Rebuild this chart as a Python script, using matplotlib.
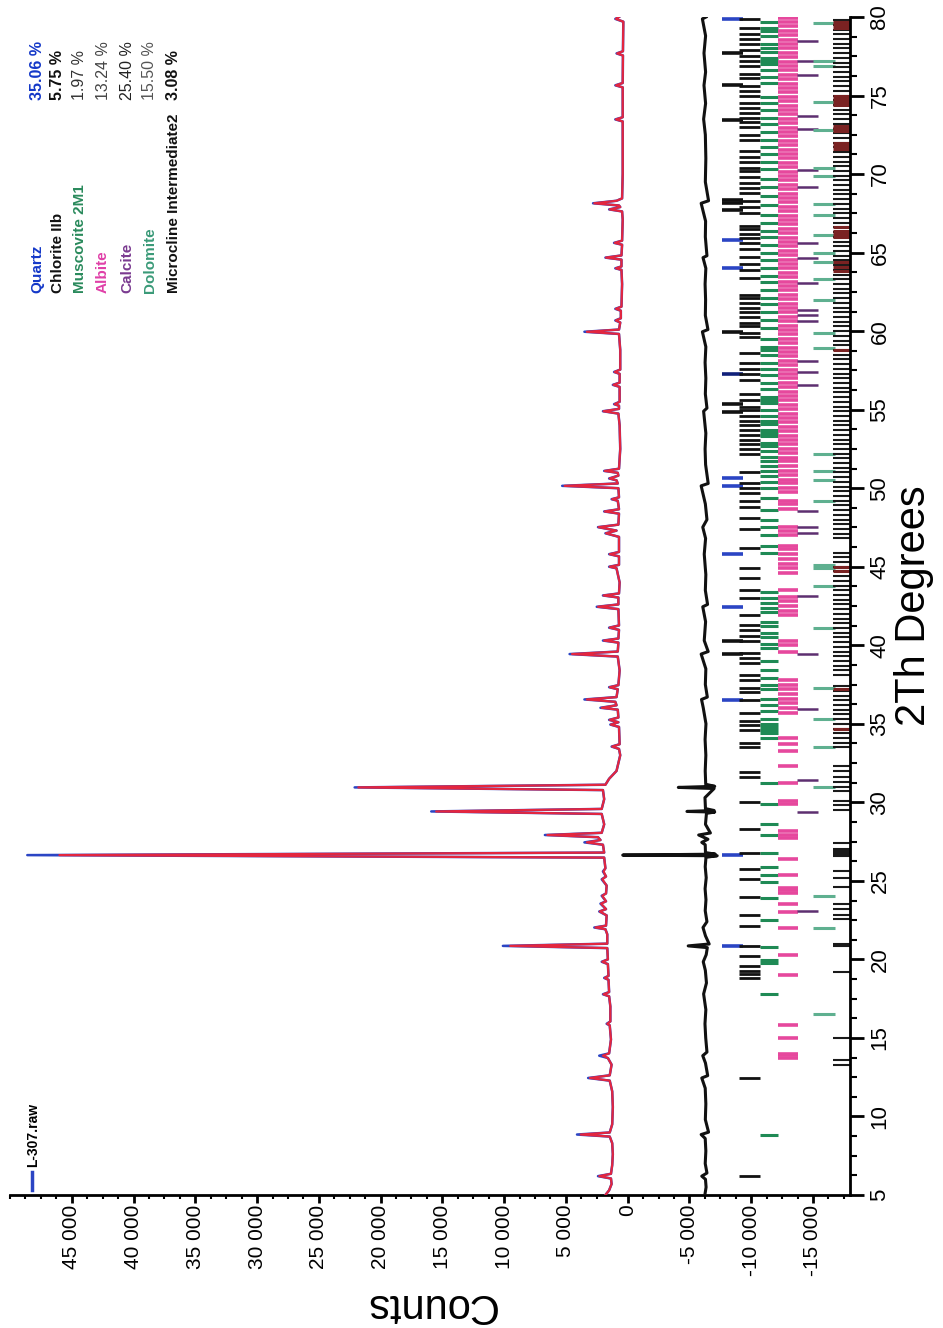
import matplotlib
matplotlib.use("Agg")
import matplotlib.pyplot as plt
from matplotlib.ticker import MultipleLocator, FuncFormatter
from matplotlib.lines import Line2D

plt.rcParams['font.family'] = ['Liberation Sans', 'DejaVu Sans']

# ---------------- data ----------------
profile_2theta = [
    5.00, 5.30, 5.70, 6.05, 6.20, 6.35, 6.90, 7.60, 8.30, 8.72,
    8.85, 8.98, 9.50, 10.60, 11.60, 12.28, 12.45, 12.62, 13.30, 13.72,
    13.87, 14.02, 14.90, 15.80, 15.90, 16.05, 17.00, 17.65, 17.78, 17.92,
    18.70, 18.82, 18.95, 19.70, 19.85, 20.00, 20.72, 20.86, 21.00, 21.60,
    21.92, 22.03, 22.15, 22.80, 23.05, 23.20, 23.55, 23.70, 24.05, 24.20,
    24.70, 25.10, 25.28, 25.60, 25.80, 26.48, 26.64, 26.80, 27.30, 27.45,
    27.60, 27.78, 27.92, 28.06, 28.60, 29.26, 29.42, 29.58, 30.20, 30.78,
    30.95, 31.12, 31.50, 32.00, 33.00, 33.40, 33.55, 33.70, 34.80, 34.95,
    35.10, 35.25, 35.40, 35.90, 36.02, 36.18, 36.40, 36.55, 36.70, 37.20,
    37.33, 37.46, 38.40, 39.28, 39.44, 39.60, 40.17, 40.30, 40.43, 40.98,
    41.12, 41.26, 42.30, 42.45, 42.60, 43.04, 43.17, 43.30, 44.00, 44.90,
    45.00, 45.12, 45.66, 45.80, 45.94, 46.90, 47.13, 47.30, 47.52, 47.68,
    48.38, 48.52, 48.66, 49.20, 49.30, 49.42, 50.00, 50.15, 50.30, 50.50,
    50.62, 50.80, 50.98, 51.10, 51.24, 52.50, 54.00, 54.75, 54.90, 55.05,
    55.25, 55.35, 55.50, 56.45, 56.58, 56.72, 57.28, 57.40, 57.55, 58.80,
    59.82, 59.96, 60.10, 60.55, 60.68, 60.82, 61.30, 61.42, 61.56, 63.00,
    63.90, 64.00, 64.12, 64.55, 64.68, 64.82, 65.50, 65.62, 65.76, 67.10,
    67.62, 67.75, 67.90, 68.00, 68.14, 68.30, 68.45, 70.00, 73.35, 73.48,
    73.62, 75.52, 75.65, 75.80, 77.55, 77.68, 77.82, 79.70, 79.88, 80.00,
]
observed_counts = [
    1800, 1500, 1300, 1350, 2400, 1350, 1250, 1200, 1250, 1450,
    4100, 1450, 1250, 1200, 1250, 1450, 3200, 1450, 1300, 1600,
    2300, 1500, 1350, 1450, 1700, 1400, 1400, 1500, 2000, 1500,
    1550, 1900, 1550, 1600, 2100, 1600, 1650, 10100, 1650, 1650,
    1800, 2700, 1750, 1700, 2300, 1750, 2200, 1750, 2100, 1750,
    1700, 2100, 1750, 2000, 1800, 1900, 48600, 1900, 2000, 3500,
    2200, 2400, 6700, 2100, 1900, 2100, 15900, 2100, 1900, 2000,
    22100, 1800, 1500, 900, 600, 700, 1300, 650, 700, 1400,
    750, 1500, 750, 800, 2200, 900, 1000, 3500, 900, 800,
    1500, 750, 650, 800, 4700, 800, 750, 2000, 750, 700,
    1500, 700, 750, 2500, 750, 750, 2000, 700, 650, 900,
    1500, 700, 700, 1500, 700, 700, 1800, 900, 2400, 750,
    700, 1900, 700, 800, 1300, 700, 750, 5300, 800, 900,
    1500, 750, 800, 1900, 700, 600, 650, 750, 2000, 700,
    700, 1100, 650, 650, 1200, 650, 650, 1100, 600, 600,
    700, 3500, 700, 600, 1000, 550, 550, 1000, 500, 450,
    500, 1000, 500, 500, 1800, 500, 450, 1100, 450, 400,
    450, 1500, 600, 700, 2800, 900, 450, 400, 400, 1000,
    400, 400, 1000, 400, 380, 900, 380, 350, 1000, 700,
]
calculated_counts = [
    1800, 1500, 1300, 1350, 2300, 1350, 1250, 1200, 1250, 1450,
    3800, 1450, 1250, 1200, 1250, 1450, 3050, 1450, 1300, 1600,
    2000, 1500, 1350, 1450, 1650, 1400, 1400, 1500, 1950, 1500,
    1550, 1850, 1550, 1600, 2050, 1600, 1650, 9500, 1650, 1650,
    1800, 2600, 1750, 1700, 2250, 1750, 2150, 1750, 2050, 1750,
    1700, 2050, 1750, 1950, 1800, 1900, 46000, 1900, 2000, 3300,
    2200, 2400, 6500, 2100, 1900, 2100, 15500, 2100, 1900, 2000,
    21800, 1800, 1500, 900, 600, 700, 1250, 650, 700, 1350,
    750, 1450, 750, 800, 2100, 900, 1000, 3300, 900, 800,
    1450, 750, 650, 800, 4500, 800, 750, 1900, 750, 700,
    1450, 700, 750, 2400, 750, 750, 1950, 700, 650, 900,
    1450, 700, 700, 1450, 700, 700, 1750, 900, 2350, 750,
    700, 1850, 700, 800, 1250, 700, 750, 5100, 800, 900,
    1450, 750, 800, 1850, 700, 600, 650, 750, 1950, 700,
    700, 1050, 650, 650, 1150, 650, 650, 1050, 600, 600,
    700, 3300, 700, 600, 950, 550, 550, 950, 500, 450,
    500, 950, 500, 500, 1750, 500, 450, 1050, 450, 400,
    450, 1450, 600, 700, 2700, 900, 450, 400, 400, 950,
    400, 400, 950, 400, 380, 850, 380, 350, 950, 700,
]

difference_2theta = [
    5.0, 5.5, 6.0, 6.2, 6.4, 7.0, 7.8, 8.6, 8.85, 9.0,
    9.8, 10.8, 11.8, 12.45, 12.6, 13.4, 13.87, 14.1, 15.0, 15.9,
    16.8, 17.8, 18.5, 19.3, 19.85, 20.3, 20.75, 20.86, 20.98, 21.5,
    22.03, 22.4, 23.1, 23.8, 24.5, 25.2, 25.9, 26.5, 26.60, 26.64,
    26.70, 26.80, 27.3, 27.45, 27.65, 27.92, 28.05, 28.6, 29.3, 29.38,
    29.42, 29.48, 29.6, 30.3, 30.88, 30.95, 31.02, 31.15, 32.0, 33.0,
    34.0, 35.0, 36.02, 36.55, 36.7, 37.5, 38.5, 39.44, 39.6, 40.3,
    41.5, 42.45, 42.6, 43.5, 44.5, 45.8, 46.8, 47.52, 48.0, 49.0,
    50.15, 50.3, 51.5, 52.5, 53.5, 54.9, 55.1, 56.0, 57.0, 58.0,
    59.0, 59.96, 60.1, 61.0, 62.0, 63.0, 64.0, 64.68, 64.8, 66.0,
    67.0, 68.14, 68.3, 69.5, 71.0, 72.5, 73.5, 74.5, 75.65, 76.5,
    77.7, 78.8, 79.88, 80.0,
]
difference_counts = [
    -6250, -6350, -6300, -6000, -6420, -6280, -6330, -6280, -5950, -6550,
    -6290, -6330, -6280, -6000, -6480, -6300, -6080, -6420, -6320, -6260,
    -6330, -6150, -6380, -6290, -6120, -6360, -6450, -4900, -6600, -6300,
    -6100, -6420, -6280, -6340, -6270, -6360, -6280, -6340, -7250, 400,
    -7100, -6300, -6280, -6000, -6500, -5750, -6700, -6300, -6380, -7050,
    -4800, -7000, -6300, -6260, -7000, -4100, -7050, -6320, -6280, -6330,
    -6270, -6340, -6120, -5980, -6450, -6290, -6330, -5950, -6520, -6200,
    -6310, -6080, -6470, -6290, -6330, -6200, -6310, -6080, -6420, -6290,
    -5950, -6520, -6310, -6270, -6330, -6150, -6420, -6290, -6330, -6270,
    -6330, -6050, -6500, -6290, -6310, -6270, -6330, -6100, -6420, -6290,
    -6310, -5950, -6550, -6290, -6330, -6290, -6150, -6310, -6180, -6310,
    -6180, -6310, -6050, -6350,
]

# reflection positions (2Th) of each phase
quartz_peaks = [20.86, 26.64, 36.54, 39.47, 40.29, 42.45, 45.79, 50.14, 50.62,
                54.87, 55.33, 57.24, 59.96, 63.99, 65.79, 67.74, 68.14, 68.32,
                73.47, 75.66, 77.68, 79.88]
chlorite_peaks = [6.2, 12.45, 18.8, 19.05, 19.25, 19.6, 20.2, 20.85, 22.1, 22.8,
                  24.0, 25.1, 25.75, 26.8, 28.3, 30.0, 31.6, 31.9, 33.5, 33.8,
                  34.6, 34.9, 35.2, 35.7, 36.5, 37.0, 37.3, 37.8, 38.1, 38.9,
                  39.2, 39.5, 40.3, 40.6, 41.0, 41.3, 41.9, 43.0, 43.5, 44.3,
                  44.9, 46.2, 47.4, 48.1, 48.8, 49.2, 49.7, 50.0, 50.3, 51.0,
                  52.2, 52.5, 52.8, 53.1, 53.4, 53.7, 54.0, 54.3, 54.6, 55.0,
                  55.2, 55.6, 56.0, 56.9, 57.3, 57.6, 58.0, 58.6, 59.6, 59.9,
                  60.3, 60.5, 60.9, 61.2, 61.5, 61.8, 62.1, 62.3, 63.4, 63.9,
                  64.3, 64.7, 65.2, 65.6, 65.9, 66.2, 66.5, 66.7, 67.5, 67.9,
                  68.3, 68.8, 69.1, 69.4, 69.8, 70.2, 70.4, 70.8, 71.1, 71.5,
                  72.2, 72.5, 73.0, 73.3, 73.6, 73.9, 74.2, 74.5, 75.0, 75.3,
                  75.6, 76.1, 76.4, 76.9, 77.2, 77.5, 77.9, 78.3, 78.6, 78.9,
                  79.3, 79.9]
muscovite_peaks = [8.85, 17.8, 19.8, 19.95, 20.8, 22.5, 23.9, 24.9, 25.4, 25.9,
                   26.75, 27.9, 28.6, 29.9, 31.2, 34.1, 34.4, 34.6, 34.8, 35.0,
                   35.3, 35.8, 36.2, 36.6, 37.2, 37.5, 37.9, 38.4, 39.0, 39.8,
                   40.1, 40.5, 40.8, 41.2, 41.5, 42.1, 42.4, 42.7, 43.0, 43.4,
                   45.9, 46.3, 47.0, 47.5, 48.0, 48.6, 49.4, 50.0, 50.4, 50.8,
                   51.1, 51.4, 51.7, 52.0, 52.4, 52.7, 52.9, 53.3, 53.5, 53.7,
                   54.1, 54.3, 54.6, 55.0, 55.4, 55.6, 55.8, 56.3, 56.7, 57.2,
                   57.6, 58.0, 58.5, 58.8, 59.0, 59.5, 60.2, 60.7, 61.2, 61.7,
                   62.1, 62.6, 63.1, 63.5, 64.0, 64.5, 65.0, 65.5, 66.0, 66.4,
                   66.9, 67.4, 68.0, 68.6, 69.2, 69.7, 70.3, 70.8, 71.3, 71.7,
                   72.2, 72.7, 73.2, 73.6, 74.1, 74.5, 74.9, 75.8, 76.2, 76.6,
                   77.0, 77.2, 77.4, 77.8, 78.0, 78.3, 78.8, 79.1, 79.3, 79.7]
albite_peaks = [13.75, 13.9, 13.98, 15.0, 15.85, 19.0, 20.3, 22.0, 23.0, 23.5,
                24.2, 24.4, 24.55, 25.4, 26.4, 27.7, 27.95, 28.2, 29.9, 30.1,
                31.2, 32.3, 33.3, 33.7, 34.1, 35.7, 36.0, 36.3, 36.6, 36.9,
                37.2, 37.5, 37.8, 39.6, 40.0, 40.3, 41.9, 42.2, 42.5, 42.8,
                43.1, 43.5, 44.6, 44.9, 45.2, 45.5, 45.8, 46.1, 46.3, 47.0,
                47.3, 47.5, 48.7, 49.0, 49.2, 49.75, 50.0, 50.3, 50.55, 50.85,
                51.1, 51.4, 51.7, 51.95, 52.25, 52.5, 52.8, 53.1, 53.35, 53.65,
                53.9, 54.2, 54.5, 54.75, 55.05, 55.3, 55.6, 55.9, 56.15, 56.45,
                56.7, 57.0, 57.3, 57.55, 57.85, 58.1, 58.4, 58.7, 58.95, 59.25,
                59.5, 59.8, 60.1, 60.35, 60.65, 60.9, 61.2, 61.5, 61.75, 62.05,
                62.3, 62.6, 62.9, 63.15, 63.45, 63.7, 64.0, 64.3, 64.55, 64.85,
                65.1, 65.4, 65.7, 65.95, 66.25, 66.5, 66.8, 67.1, 67.35, 67.65,
                67.9, 68.2, 68.5, 68.75, 69.05, 69.3, 69.6, 69.9, 70.15, 70.45,
                70.7, 71.0, 71.3, 71.55, 71.85, 72.1, 72.4, 72.7, 72.95, 73.25,
                73.5, 73.8, 74.1, 74.35, 74.65, 74.9, 75.2, 75.5, 75.75, 76.05,
                76.3, 76.6, 76.9, 77.15, 77.45, 77.7, 78.0, 78.3, 78.55, 78.85,
                79.1, 79.4, 79.7, 79.95]
calcite_peaks = [23.06, 29.41, 31.44, 35.97, 39.42, 43.16, 47.12, 47.51, 48.52,
                 56.57, 57.41, 58.10, 60.67, 61.0, 61.37, 63.08, 64.68, 65.62,
                 69.2, 70.25, 72.9, 73.7, 76.3, 77.2, 78.5]
dolomite_peaks = [16.5, 22.0, 24.06, 30.95, 33.5, 35.3, 37.3, 41.1, 43.8, 44.9,
                  45.1, 49.2, 50.5, 51.1, 52.2, 58.9, 59.9, 62.0, 63.3, 64.4,
                  65.0, 66.1, 67.4, 68.1, 69.9, 70.4, 72.8, 74.6, 76.9, 77.2,
                  79.6]
microcline_peaks = [13.3, 13.6, 15.0, 19.2, 20.85, 21.0, 22.6, 22.8, 23.2, 23.5,
                    24.6, 25.2, 25.6, 26.6, 26.7, 26.8, 26.9, 27.0, 27.4, 29.5,
                    29.8, 30.1, 30.7, 31.0, 31.3, 31.6, 32.0, 32.3, 33.5, 33.8,
                    34.1, 34.4, 34.7, 35.0, 35.3, 35.6, 35.9, 36.2, 36.5, 36.8,
                    37.1, 37.4, 38.1, 38.4, 38.7, 39.0, 39.3, 39.6, 39.9, 40.2,
                    40.5, 40.8, 41.1, 41.4, 41.7, 42.0, 42.3, 42.6, 42.9, 43.2,
                    43.5, 43.8, 44.1, 44.4, 44.7, 45.0, 45.3, 45.6, 45.9, 46.8,
                    47.1, 47.4, 47.7, 48.0, 48.3, 48.6, 48.9, 49.2, 49.5, 49.8,
                    50.1, 50.4, 50.7, 51.0, 51.3, 51.6, 51.9, 52.2, 52.5, 52.8,
                    53.1, 53.4, 53.7, 54.0, 54.3, 54.6, 54.9, 55.2, 55.5, 55.8,
                    56.1, 56.4, 56.7, 57.0, 57.3, 57.6, 57.9, 58.2, 58.5, 58.8,
                    59.1, 59.4, 59.7, 60.0, 60.3, 60.6, 60.9, 61.2, 61.5, 61.8,
                    62.1, 62.4, 62.7, 63.0, 63.3, 63.6, 63.9, 64.2, 64.5, 64.8,
                    65.1, 65.4, 65.7, 66.0, 66.3, 66.6, 66.9, 67.2, 67.5, 67.8,
                    68.1, 68.4, 68.7, 69.0, 69.3, 69.6, 69.9, 70.2, 70.5, 70.8,
                    71.1, 71.4, 71.7, 72.0, 72.3, 72.6, 72.9, 73.2, 73.5, 73.8,
                    74.1, 74.4, 74.7, 75.0, 75.3, 75.6, 75.9, 76.2, 76.5, 76.8,
                    77.1, 77.4, 77.7, 78.0, 78.3, 78.6, 78.9, 79.2, 79.5, 79.8]
microcline_strong = [79.3, 79.5, 79.7, 74.4, 74.6, 74.8, 75.0, 72.75, 72.85,
                     72.95, 73.05, 71.6, 71.8, 72.0, 66.0, 66.2, 66.4, 66.6,
                     63.8, 64.1, 64.4, 45.0, 44.7, 37.2, 34.7, 58.8]

phase_names = ["Quartz", "Chlorite IIb", "Muscovite 2M1", "Albite", "Calcite",
               "Dolomite", "Microcline Intermediate2"]
phase_percent = ["35.06 %", "5.75 %", "1.97 %", "13.24 %", "25.40 %",
                 "15.50 %", "3.08 %"]
scan_name = "L-307.raw"

count_ticks = [-15000, -10000, -5000, 0, 5000, 10000, 15000, 20000, 25000,
               30000, 35000, 40000, 45000]
theta_ticks = [5, 10, 15, 20, 25, 30, 35, 40, 45, 50, 55, 60, 65, 70, 75, 80]

# ---------------- styles ----------------
W, H = 943, 1328
BLUE = '#2b45c4'
RED = '#e3263f'
phase_colors = ['#2b4fd0', '#111111', '#1f8a55', '#e6489d', '#5d2f70',
                '#5fb090', '#1a1a1a']
text_colors = ['#1438c8', '#111111', '#2a8a5c', '#e040a8', '#7a3a90',
               '#3a9a78', '#111111']
pct_colors = ['#1438c8', '#111111', '#333333', '#444444', '#222222',
              '#555555', '#111111']
quartz_colors = [BLUE, BLUE, BLUE, '#111111', '#111111', BLUE, BLUE, BLUE, BLUE,
                 '#111111', '#111111', '#10207a', '#111111', BLUE, BLUE,
                 '#111111', '#111111', '#111111', '#111111', '#111111',
                 '#111111', BLUE]
# counts band (in plot units) used for each row of reflection marks
rows = [(-7600, -9300), (-9000, -10700), (-10700, -12150), (-12150, -13800),
        (-13700, -15400), (-15000, -16800), (-16600, -18000)]
row_lw = [2.6, 2.0, 2.2, 2.6, 1.8, 2.2, 1.5]


def fx(x):
    return x / W


def fy(y):
    return 1 - y / H


fig = plt.figure(figsize=(W / 100, H / 100), dpi=100)
ax = fig.add_axes([fx(10), fy(1195), (850 - 10) / W, (1195 - 17) / H])

# pattern: counts on horizontal axis, 2Th on vertical axis (rotated chart)
ax.plot(observed_counts, profile_2theta, color=BLUE, lw=1.8, zorder=3)
ax.plot(calculated_counts, profile_2theta, color=RED, lw=1.6, zorder=4)
ax.plot(difference_counts, difference_2theta, color='#111111', lw=2.2, zorder=3)

peak_lists = [quartz_peaks, chlorite_peaks, muscovite_peaks, albite_peaks,
              calcite_peaks, dolomite_peaks, microcline_peaks]
for i, peaks in enumerate(peak_lists):
    lo, hi = rows[i]
    cols = quartz_colors if i == 0 else phase_colors[i]
    ax.hlines(peaks, hi, lo, colors=cols, lw=row_lw[i], zorder=2)
ax.hlines(microcline_strong, rows[6][1], rows[6][0], colors='#7a2222',
          lw=2.2, zorder=2)

ax.set_xlim(50000, -18000)
ax.set_ylim(5, 80)

for s in ['top', 'left']:
    ax.spines[s].set_visible(False)
for s in ['bottom', 'right']:
    ax.spines[s].set_linewidth(2.0)

ax.set_xticks(count_ticks)
ax.xaxis.set_minor_locator(MultipleLocator(1250))
ax.xaxis.set_major_formatter(
    FuncFormatter(lambda v, p: f"{int(round(v)):,}".replace(",", " ")))
ax.set_yticks(theta_ticks)
ax.yaxis.set_minor_locator(MultipleLocator(1.25))
ax.yaxis.tick_right()

ax.tick_params(axis='x', which='major', direction='out', length=6, width=2,
               labelsize=15, pad=1, labelrotation=90)
ax.tick_params(axis='x', which='minor', direction='out', length=3, width=1.5)
ax.tick_params(axis='y', which='major', direction='out', length=10, width=2,
               labelsize=16, pad=4, labelrotation=90)
ax.tick_params(axis='y', which='minor', direction='out', length=5, width=1.5)
for lab in ax.get_yticklabels():
    lab.set_va('center')

# axis titles (rotated with the chart)
fig.text(fx(430), fy(1305), "Counts", rotation=180, ha='center', va='center',
         fontsize=30)
fig.text(fx(914), fy(606), "2Th Degrees", rotation=90, ha='center',
         va='center', fontsize=30)

# scan legend
fig.add_artist(Line2D([fx(32), fx(32)], [fy(1172), fy(1190)], color=BLUE,
                      lw=2.5))
fig.text(fx(33), fy(1167), scan_name, rotation=90, ha='center', va='bottom',
         fontsize=10, fontweight='bold')

# phase list
name_x = [37, 58, 80, 103, 127, 150, 174]
for i in range(len(phase_names)):
    fig.text(fx(name_x[i]), fy(293), phase_names[i], rotation=90, ha='center',
             va='bottom', fontsize=11, fontweight='bold', color=text_colors[i])
    fig.text(fx(name_x[i]), fy(100), phase_percent[i], rotation=90,
             ha='center', va='bottom', fontsize=11.5,
             fontweight='bold' if i in (0, 1, 6) else 'normal',
             color=pct_colors[i])

fig.savefig("out.png", dpi=100)
